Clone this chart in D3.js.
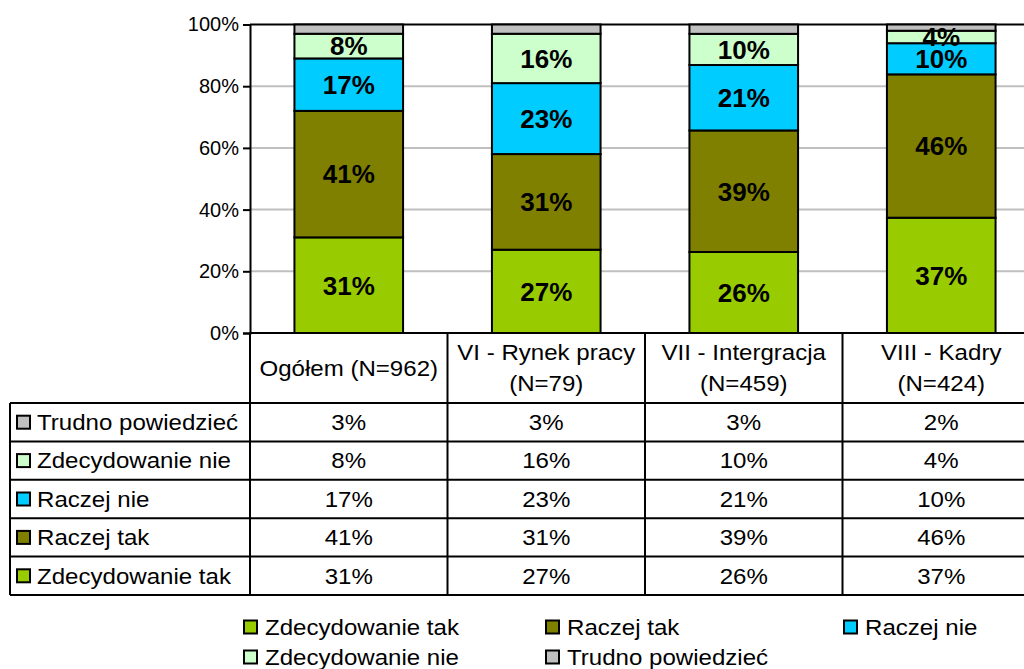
<!DOCTYPE html>
<html>
<head>
<meta charset="utf-8">
<script src="https://cdnjs.cloudflare.com/ajax/libs/d3/7.8.5/d3.min.js"></script>
<style>
  body { margin: 0; background: #fff; }
  svg text { font-family: "Liberation Sans", Arial, sans-serif; fill: #000; }
</style>
</head>
<body>
<svg id="canvas"></svg>
<script>
//--data
let categories = ["Ogółem (N=962)", "VI - Rynek pracy (N=79)", "VII - Intergracja (N=459)", "VIII - Kadry (N=424)"];
let headerLines = [["Ogółem (N=962)"], ["VI - Rynek pracy", "(N=79)"], ["VII - Intergracja", "(N=459)"], ["VIII - Kadry", "(N=424)"]];
let seriesNames = ["Zdecydowanie tak", "Raczej tak", "Raczej nie", "Zdecydowanie nie", "Trudno powiedzieć"];
let zdecydowanieTak = [31, 27, 26, 37];
let raczejTak = [41, 31, 39, 46];
let raczejNie = [17, 23, 21, 10];
let zdecydowanieNie = [8, 16, 10, 4];
let trudnoPowiedziec = [3, 3, 3, 2];
let seriesColors = ["#99cc00", "#808000", "#00ccff", "#ccffcc", "#c0c0c0"];
let yTicks = [0, 0.2, 0.4, 0.6, 0.8, 1];
//--

let width = 1024;
let height = 669;

let canvas = d3.select("#canvas")
canvas.attr("width", width)
canvas.attr("height", height)

let allSeries = [zdecydowanieTak, raczejTak, raczejNie, zdecydowanieNie, trudnoPowiedziec];

// one row per category for d3.stack
let rows = categories.map((c, i) => {
    let r = { category: c }
    seriesNames.forEach((s, j) => { r[s] = allSeries[j][i] })
    return r
})

let stacked = d3.stack()
    .keys(seriesNames)
    .offset(d3.stackOffsetExpand)(rows)

let color = d3.scaleOrdinal().domain(seriesNames).range(seriesColors)

//--scales
let plotLeft = 250, plotRight = 1040, plotTop = 24.5, plotBottom = 333;

let colScale = d3.scaleBand().domain(categories).range([plotLeft, plotRight]).padding(0)
let barScale = d3.scaleBand().domain(categories).range([plotLeft, plotRight])
    .paddingInner(0.45).paddingOuter(0.225)
let y = d3.scaleLinear().domain([0, 1]).range([plotBottom, plotTop])
//--

// table / legend text is a bit wider than plain Arial in the original
let txtSize = 21.5, txtStretch = 1.12;
let place = (x, yy) => "translate(" + x + "," + yy + ") scale(" + txtStretch + ",1)"

//--gridlines
canvas.append("g")
    .selectAll("line")
    .data(yTicks.filter(t => t > 0 && t < 1))
    .enter()
    .append("line")
    .attr("x1", plotLeft).attr("x2", plotRight)
    .attr("y1", d => y(d)).attr("y2", d => y(d))
    .attr("stroke", "#c0c0c0").attr("stroke-width", 2)

canvas.append("line")
    .attr("x1", plotLeft).attr("x2", plotRight)
    .attr("y1", y(1)).attr("y2", y(1))
    .attr("stroke", "#000").attr("stroke-width", 2)

//--bars
let layer = canvas.append("g")
    .selectAll("g")
    .data(stacked)
    .enter()
    .append("g")
    .attr("fill", d => color(d.key))

layer.selectAll("rect")
    .data(d => d)
    .enter()
    .append("rect")
    .attr("x", d => barScale(d.data.category))
    .attr("width", barScale.bandwidth())
    .attr("y", d => y(d[1]))
    .attr("height", d => y(d[0]) - y(d[1]))
    .attr("stroke", "#000")
    .attr("stroke-width", 2)

// labels on all except "Trudno powiedzieć"
let labelLayers = stacked.filter(s => s.key !== "Trudno powiedzieć")
canvas.append("g")
    .selectAll("g")
    .data(labelLayers)
    .enter()
    .append("g")
    .selectAll("text")
    .data(d => d.map((p, i) => ({ p: p, v: allSeries[seriesNames.indexOf(d.key)][i] })))
    .enter()
    .append("text")
    .attr("x", d => barScale(d.p.data.category) + barScale.bandwidth() / 2)
    .attr("y", d => (y(d.p[0]) + y(d.p[1])) / 2)
    .attr("dy", "0.36em")
    .attr("text-anchor", "middle")
    .attr("font-size", 26)
    .attr("font-weight", "bold")
    .text(d => d.v + "%")

//--y axis
let yAxis = d3.axisLeft(y)
    .tickValues(yTicks)
    .tickFormat(d3.format(".0%"))
    .tickSize(7)
    .tickPadding(4)

let axisG = canvas.append("g")
    .attr("transform", "translate(" + plotLeft + ",0)")
    .call(yAxis)
axisG.select(".domain").attr("stroke", "#000").attr("stroke-width", 2)
axisG.selectAll(".tick line").attr("stroke", "#000").attr("stroke-width", 2)
axisG.selectAll(".tick text").attr("font-size", 20).attr("font-family", "Liberation Sans, Arial, sans-serif")

//--data table
let tableLeft = 10, headerBottom = 403, rowH = 38.4;
let tableRows = seriesNames.slice().reverse()
let rowY = d3.scaleBand().domain(tableRows).range([headerBottom, headerBottom + rowH * tableRows.length])

let tbl = canvas.append("g").attr("stroke", "#000").attr("stroke-width", 2)

// horizontal lines
tbl.append("line").attr("x1", plotLeft).attr("x2", plotRight).attr("y1", plotBottom).attr("y2", plotBottom)
tableRows.forEach(r => {
    tbl.append("line").attr("x1", tableLeft).attr("x2", plotRight)
        .attr("y1", rowY(r)).attr("y2", rowY(r))
})
tbl.append("line").attr("x1", tableLeft).attr("x2", plotRight)
    .attr("y1", rowY.range()[1]).attr("y2", rowY.range()[1])

// vertical lines
tbl.append("line").attr("x1", tableLeft).attr("x2", tableLeft)
    .attr("y1", headerBottom).attr("y2", rowY.range()[1])
categories.forEach(c => {
    tbl.append("line").attr("x1", colScale(c)).attr("x2", colScale(c))
        .attr("y1", plotBottom).attr("y2", rowY.range()[1])
})
tbl.append("line").attr("x1", plotRight).attr("x2", plotRight)
    .attr("y1", plotBottom).attr("y2", rowY.range()[1])

// header text
let headG = canvas.append("g")
categories.forEach((c, i) => {
    let lines = headerLines[i]
    let cy = (plotBottom + headerBottom) / 2
    lines.forEach((t, k) => {
        headG.append("text")
            .attr("transform", place(colScale(c) + colScale.bandwidth() / 2, cy + (k - (lines.length - 1) / 2) * 31))
            .attr("dy", "0.36em")
            .attr("text-anchor", "middle")
            .attr("font-size", txtSize)
            .text(t)
    })
})

// row legend keys + names
let rowG = canvas.selectAll(".trow")
    .data(tableRows)
    .enter()
    .append("g")
    .attr("class", "trow")
    .attr("transform", d => "translate(0," + (rowY(d) + rowY.bandwidth() / 2) + ")")

rowG.append("rect")
    .attr("x", 17).attr("y", -6.5)
    .attr("width", 13).attr("height", 13)
    .attr("fill", d => color(d))
    .attr("stroke", "#000").attr("stroke-width", 2)

rowG.append("text")
    .attr("transform", place(37, 0))
    .attr("dy", "0.36em")
    .attr("font-size", txtSize)
    .text(d => d)

rowG.selectAll(".val")
    .data(d => categories.map((c, i) => ({ c: c, v: allSeries[seriesNames.indexOf(d)][i] })))
    .enter()
    .append("text")
    .attr("class", "val")
    .attr("transform", d => place(colScale(d.c) + colScale.bandwidth() / 2, 0))
    .attr("dy", "0.36em")
    .attr("text-anchor", "middle")
    .attr("font-size", txtSize)
    .text(d => d.v + "%")

//--bottom legend
let legendX = [243, 545, 843, 243, 545];
let legendY = [627, 627, 627, 657, 657];

let leg = canvas.selectAll(".legend-item")
    .data(seriesNames)
    .enter()
    .append("g")
    .attr("class", "legend-item")
    .attr("transform", (d, i) => "translate(" + legendX[i] + "," + legendY[i] + ")")

leg.append("rect")
    .attr("x", 1).attr("y", -6.5)
    .attr("width", 13).attr("height", 13)
    .attr("fill", d => color(d))
    .attr("stroke", "#000").attr("stroke-width", 2)

leg.append("text")
    .attr("transform", place(22, 0))
    .attr("dy", "0.36em")
    .attr("font-size", txtSize)
    .text(d => d)
</script>
</body>
</html>
